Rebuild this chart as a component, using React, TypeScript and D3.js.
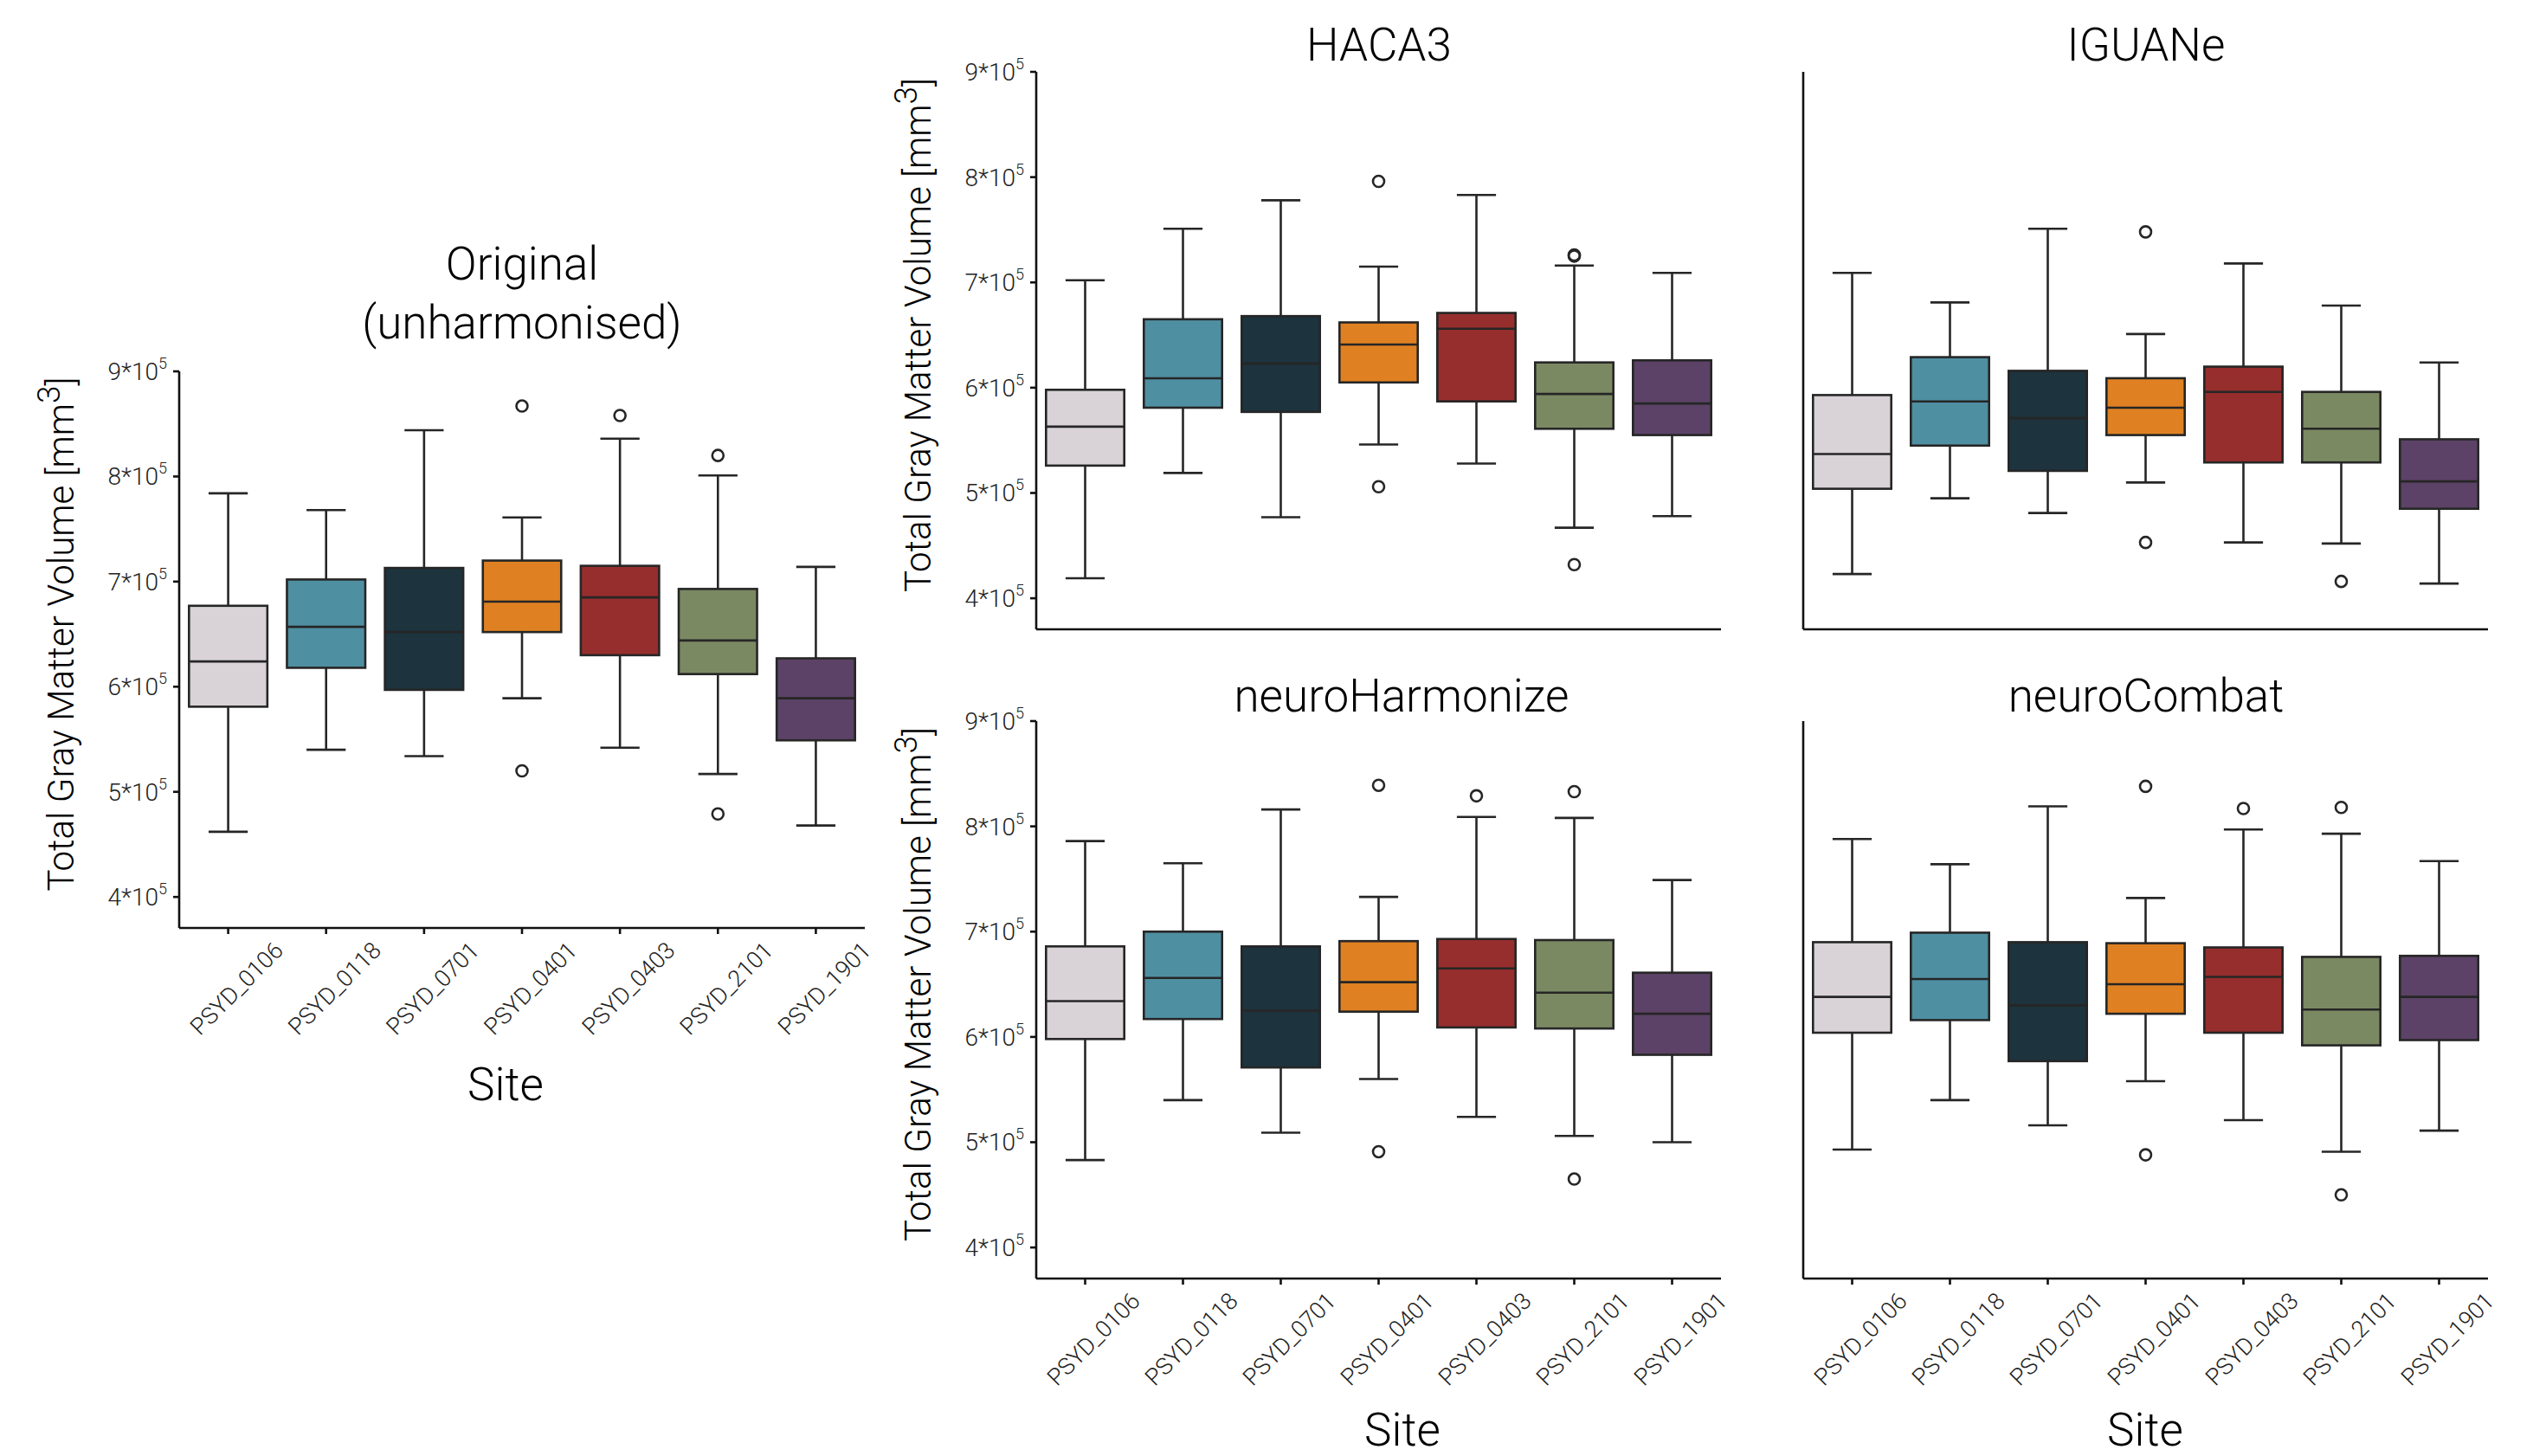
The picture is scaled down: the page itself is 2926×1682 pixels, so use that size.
import React from 'react'
import * as d3 from 'd3'

// site order on every x axis
const sites = ['PSYD_0106', 'PSYD_0118', 'PSYD_0701', 'PSYD_0401', 'PSYD_0403', 'PSYD_2101', 'PSYD_1901']
const siteColors = ['#d9d3d8', '#4f8fa2', '#1d333d', '#df8122', '#962e2d', '#7b8963', '#5c4266']
const yTicks = [400000, 500000, 600000, 700000, 800000, 900000]

// [lower whisker, Q1, median, Q3, upper whisker] per site
const originalBoxes = [
  [462000, 581000, 624000, 677000, 784000],
  [540000, 618000, 657000, 702000, 768000],
  [534000, 597000, 652000, 713000, 844000],
  [589000, 652000, 681000, 720000, 761000],
  [542000, 630000, 685000, 715000, 836000],
  [517000, 612000, 644000, 693000, 801000],
  [468000, 549000, 589000, 627000, 714000],
]
const originalOutliers = [[], [], [], [867000, 520000], [858000], [820000, 479000], []]

const haca3Boxes = [
  [419000, 526000, 563000, 598000, 702000],
  [519000, 581000, 609000, 665000, 751000],
  [477000, 577000, 623000, 668000, 778000],
  [546000, 605000, 641000, 662000, 715000],
  [528000, 587000, 656000, 671000, 783000],
  [467000, 561000, 594000, 624000, 716000],
  [478000, 555000, 585000, 626000, 709000],
]
const haca3Outliers = [[], [], [], [796000, 506000], [], [726000, 725000, 432000], []]

const iguaneBoxes = [
  [423000, 504000, 537000, 593000, 709000],
  [495000, 545000, 587000, 629000, 681000],
  [481000, 521000, 571000, 616000, 751000],
  [510000, 555000, 581000, 609000, 651000],
  [453000, 529000, 596000, 620000, 718000],
  [452000, 529000, 561000, 596000, 678000],
  [414000, 485000, 511000, 551000, 624000],
]
const iguaneOutliers = [[], [], [], [748000, 453000], [], [416000], []]

const harmonizeBoxes = [
  [483000, 598000, 634000, 686000, 786000],
  [540000, 617000, 656000, 700000, 765000],
  [509000, 571000, 625000, 686000, 816000],
  [560000, 624000, 652000, 691000, 733000],
  [524000, 609000, 665000, 693000, 809000],
  [506000, 608000, 642000, 692000, 808000],
  [500000, 583000, 622000, 661000, 749000],
]
const harmonizeOutliers = [[], [], [], [839000, 491000], [829000], [833000, 465000], []]

const combatBoxes = [
  [493000, 604000, 638000, 690000, 788000],
  [540000, 616000, 655000, 699000, 764000],
  [516000, 577000, 630000, 690000, 819000],
  [558000, 622000, 650000, 689000, 732000],
  [521000, 604000, 657000, 685000, 797000],
  [491000, 592000, 626000, 676000, 793000],
  [511000, 597000, 638000, 677000, 767000],
]
const combatOutliers = [[], [], [], [838000, 488000], [817000], [818000, 450000], []]

const FONT = 'Roboto, "Liberation Sans", sans-serif'
const INK = '#262626'
const LW = 2.6

type PanelProps = {
  left: number
  right: number
  top: number
  bottom: number
  title: string[]
  titleX: number
  titleY: number
  boxes: number[][]
  outliers: number[][]
  yAxisTicks?: boolean
  xAxisTicks?: boolean
  xLabelX?: number
  xLabelY?: number
}

const Panel = (p: PanelProps) => {
  const x = d3.scaleBand<string>().domain(sites).range([p.left, p.right]).padding(0)
  const y = d3.scaleLinear().domain([370500, 900000]).range([p.bottom, p.top])
  const bw = x.bandwidth() * 0.8
  const midY = (p.top + p.bottom) / 2

  return (
    <g>
      {p.title.map((t, i) => (
        <text key={t} x={p.titleX} y={p.titleY + i * 68 + 19} textAnchor="middle" fontSize={53}
          fontWeight={300} fill="#000">{t}</text>
      ))}

      {sites.map((s, i) => {
        const [lo, q1, med, q3, hi] = p.boxes[i]
        const cx = x(s)! + x.bandwidth() / 2
        return (
          <g key={s}>
            <line x1={cx} x2={cx} y1={y(lo)} y2={y(q1)} stroke={INK} strokeWidth={LW} />
            <line x1={cx} x2={cx} y1={y(q3)} y2={y(hi)} stroke={INK} strokeWidth={LW} />
            <line x1={cx - bw / 4} x2={cx + bw / 4} y1={y(lo)} y2={y(lo)} stroke={INK} strokeWidth={LW} />
            <line x1={cx - bw / 4} x2={cx + bw / 4} y1={y(hi)} y2={y(hi)} stroke={INK} strokeWidth={LW} />
            <rect x={cx - bw / 2} y={y(q3)} width={bw} height={y(q1) - y(q3)} fill={siteColors[i]}
              stroke={INK} strokeWidth={LW} />
            <line x1={cx - bw / 2} x2={cx + bw / 2} y1={y(med)} y2={y(med)} stroke={INK} strokeWidth={LW} />
            {p.outliers[i].map((o, k) => (
              <circle key={k} cx={cx} cy={y(o)} r={6.5} fill="none" stroke={INK} strokeWidth={LW} />
            ))}
          </g>
        )
      })}

      {/* spines */}
      <line x1={p.left} x2={p.left} y1={p.top} y2={p.bottom} stroke="#111" strokeWidth={LW} />
      <line x1={p.left} x2={p.right} y1={p.bottom} y2={p.bottom} stroke="#111" strokeWidth={LW} />

      {p.yAxisTicks && (
        <g>
          {yTicks.map((t) => (
            <g key={t}>
              <line x1={p.left - 7} x2={p.left} y1={y(t)} y2={y(t)} stroke="#111" strokeWidth={LW} />
              <text x={p.left - 14} y={y(t) + 10} textAnchor="end" fontSize={28} fontWeight={300} fill="#222">
                {t / 100000}*10<tspan dy={-13} fontSize={18}>5</tspan>
              </text>
            </g>
          ))}
          <text transform={`translate(${p.left - 137},${midY - 18}) rotate(-90)`} textAnchor="middle"
            fontSize={42} fontWeight={300} fill="#000" dy={15}>
            Total Gray Matter Volume [mm<tspan dy={-16} fontSize={37}>3</tspan><tspan dy={16}>]</tspan>
          </text>
        </g>
      )}

      {p.xAxisTicks && (
        <g>
          {sites.map((s) => {
            const cx = x(s)! + x.bandwidth() / 2
            return (
              <g key={s}>
                <line x1={cx} x2={cx} y1={p.bottom} y2={p.bottom + 7} stroke="#111" strokeWidth={LW} />
                <text transform={`translate(${cx + 10},${p.bottom + 70}) rotate(-45)`} textAnchor="middle"
                  dominantBaseline="central" fontSize={27} fontWeight={300} fill="#222">{s}</text>
              </g>
            )
          })}
          <text x={p.xLabelX} y={p.xLabelY! + 19} textAnchor="middle" fontSize={53} fontWeight={300}
            fill="#000">Site</text>
        </g>
      )}
    </g>
  )
}

export default function App() {
  return (
    <svg width={2926} height={1682} style={{ position: 'absolute', left: 0, top: 0, background: '#fff' }}
      fontFamily={FONT}>
      <rect width={2926} height={1682} fill="#fff" />
      <Panel left={207} right={999} top={429} bottom={1072} title={['Original', '(unharmonised)']}
        titleX={603} titleY={304} boxes={originalBoxes} outliers={originalOutliers}
        yAxisTicks xAxisTicks xLabelX={584} xLabelY={1252} />
      <Panel left={1197} right={1988} top={83} bottom={727} title={['HACA3']} titleX={1593} titleY={51}
        boxes={haca3Boxes} outliers={haca3Outliers} yAxisTicks />
      <Panel left={2083} right={2874} top={83} bottom={727} title={['IGUANe']} titleX={2479} titleY={51}
        boxes={iguaneBoxes} outliers={iguaneOutliers} />
      <Panel left={1197} right={1988} top={833} bottom={1477} title={['neuroHarmonize']} titleX={1619}
        titleY={803} boxes={harmonizeBoxes} outliers={harmonizeOutliers} yAxisTicks xAxisTicks
        xLabelX={1620} xLabelY={1651} />
      <Panel left={2083} right={2874} top={833} bottom={1477} title={['neuroCombat']} titleX={2479}
        titleY={803} boxes={combatBoxes} outliers={combatOutliers} xAxisTicks xLabelX={2478} xLabelY={1651} />
    </svg>
  )
}
